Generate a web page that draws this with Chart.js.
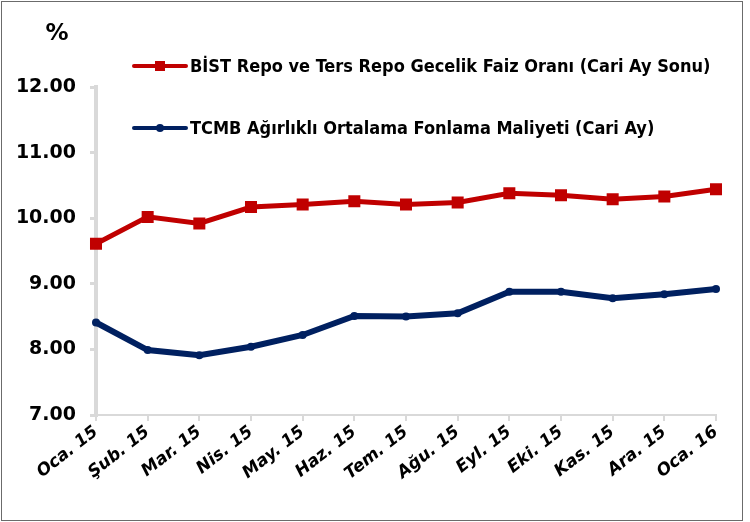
<!DOCTYPE html>
<html>
<head>
<meta charset="utf-8">
<script src="https://cdn.jsdelivr.net/npm/chart.js@4"></script>
<style>
  body { margin: 0; background: #fff; }
  #wrap { position: relative; width: 750px; height: 522px; }
  #frame { position: absolute; left: 1px; top: 1px; width: 740px; height: 518px; border: 1px solid #6b6b6b; pointer-events: none; }
</style>
</head>
<body>
<div id="wrap">
  <canvas id="chart" width="750" height="522"></canvas>
  <div id="frame"></div>
</div>
<script>
const months = ["Oca. 15", "Şub. 15", "Mar. 15", "Nis. 15", "May. 15", "Haz. 15", "Tem. 15",
                "Ağu. 15", "Eyl. 15", "Eki. 15", "Kas. 15", "Ara. 15", "Oca. 16"];
const bistLabel = "BİST Repo ve Ters Repo Gecelik Faiz Oranı (Cari Ay Sonu)";
const bistRates = [9.61, 10.02, 9.92, 10.17, 10.21, 10.26, 10.21, 10.24, 10.38, 10.35, 10.29, 10.33, 10.44];
const tcmbLabel = "TCMB Ağırlıklı Ortalama Fonlama Maliyeti (Cari Ay)";
const tcmbCost = [8.41, 7.99, 7.91, 8.04, 8.22, 8.51, 8.50, 8.55, 8.88, 8.88, 8.78, 8.84, 8.92];
const yMin = 7, yMax = 12;

const RED = "#c00000";
const BLUE = "#002060";
const AXIS = "#d9d9d9";

// legend + "%" drawn by hand, the excel legend sits inside the plot
const legendPlugin = {
    id: "customLegend",
    afterDraw(chart) {
        const ctx = chart.ctx;
        ctx.save();
        ctx.fillStyle = "#000";
        ctx.font = "bold 23px 'DejaVu Sans'";
        ctx.textAlign = "center";
        ctx.textBaseline = "middle";
        ctx.fillText("%", 57, 34);

        const rows = [66, 128];
        chart.data.datasets.forEach((ds, i) => {
            const y = rows[i];
            ctx.strokeStyle = ds.borderColor;
            ctx.lineWidth = 4;
            ctx.lineCap = "round";
            ctx.beginPath();
            ctx.moveTo(134, y);
            ctx.lineTo(186, y);
            ctx.stroke();
            ctx.fillStyle = ds.borderColor;
            if (ds.pointStyle === "rect") {
                ctx.fillRect(155, y - 5, 10, 10);
            } else {
                ctx.beginPath();
                ctx.arc(160, y, 4, 0, Math.PI * 2);
                ctx.fill();
            }
            ctx.fillStyle = "#000";
            ctx.font = "bold 18px 'DejaVu Sans Condensed'";
            ctx.textAlign = "left";
            ctx.fillText(ds.label, 190, y + 1);
        });
        ctx.restore();
    }
};

const ctx = document.getElementById("chart").getContext("2d");
const myChart = new Chart(ctx, {
    type: "line",
    data: {
        labels: months,
        datasets: [{
            label: bistLabel,
            data: bistRates,
            borderColor: RED,
            backgroundColor: RED,
            borderWidth: 5,
            pointStyle: "rect",
            pointRadius: 8.5,
            pointBorderWidth: 0,
            tension: 0,
        }, {
            label: tcmbLabel,
            data: tcmbCost,
            borderColor: BLUE,
            backgroundColor: BLUE,
            borderWidth: 6,
            pointStyle: "circle",
            pointRadius: 4,
            pointBorderWidth: 0,
            tension: 0,
        }],
    },
    options: {
        responsive: false,
        animation: false,
        layout: { padding: { left: 0, top: 87, right: 34, bottom: 0 } },
        plugins: {
            legend: { display: false },
            tooltip: { enabled: false },
        },
        scales: {
            x: {
                offset: false,
                grid: { display: true, drawOnChartArea: false, color: AXIS, tickLength: 6, lineWidth: 2 },
                border: { color: AXIS, width: 2 },
                ticks: {
                    color: "#000",
                    font: { family: "'DejaVu Sans'", size: 17, weight: "bold", style: "italic" },
                    minRotation: 38,
                    maxRotation: 38,
                    autoSkip: false,
                    padding: 1,
                },
                afterFit(scale) { scale.height = 107; },
            },
            y: {
                min: yMin,
                max: yMax,
                grid: { display: true, drawOnChartArea: false, color: AXIS, tickLength: 6, lineWidth: 3 },
                border: { color: AXIS, width: 4 },
                ticks: {
                    stepSize: 1,
                    color: "#000",
                    font: { family: "'DejaVu Sans'", size: 19, weight: "bold" },
                    padding: 14,
                    callback: (v) => v.toFixed(2),
                },
                afterFit(scale) { scale.width = 96; },
            },
        },
    },
    plugins: [legendPlugin],
});
</script>
</body>
</html>
